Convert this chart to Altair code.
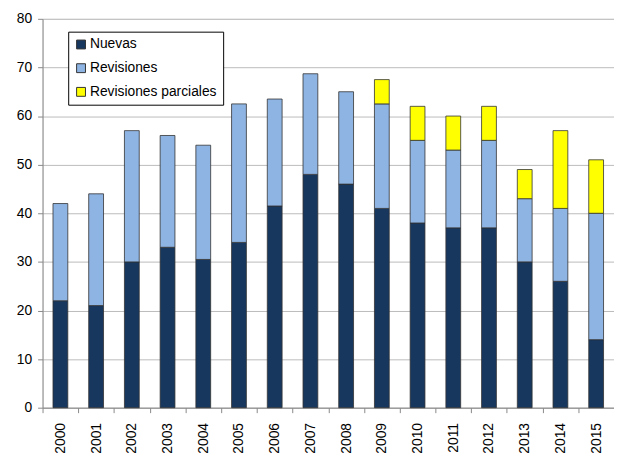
import altair as alt
import pandas as pd

years = [str(y) for y in range(2000, 2016)]
nuevas = [22, 21, 30, 33, 30.5, 34, 41.5, 48, 46, 41, 38, 37, 37, 30, 26, 14]
revisiones = [20, 23, 27, 23, 23.5, 28.5, 22, 20.7, 19, 21.5, 17, 16, 18, 13, 15, 26]
parciales = [0, 0, 0, 0, 0, 0, 0, 0, 0, 5, 7, 7, 7, 6, 16, 11]

series = ["Nuevas", "Revisiones", "Revisiones parciales"]
colors = ["#17375E", "#8EB4E3", "#FFFF00"]

rows = []
for i, y in enumerate(years):
    for k, (name, vals) in enumerate(zip(series, [nuevas, revisiones, parciales])):
        if vals[i] > 0:
            rows.append({"Año": y, "Serie": name, "Valor": vals[i], "orden": k})
df = pd.DataFrame(rows)

W, H = 579, 394
step = W / len(years)

chart = alt.Chart(df).mark_bar(
    stroke="#333333", strokeWidth=0.8, size=15
).encode(
    x=alt.X("Año:N", sort=years, title=None,
            scale=alt.Scale(paddingInner=0.58, paddingOuter=0.29),
            axis=alt.Axis(labelAngle=-90, labelAlign="right", labelBaseline="middle",
                          tickOffset=-step / 2, labelOffset=step / 2,
                          labelFontSize=14, labelColor="#000000", labelFont="Liberation Sans",
                          tickColor="#888888", tickSize=5, labelPadding=10,
                          domainColor="#888888", grid=False)),
    y=alt.Y("Valor:Q", stack="zero", title=None,
            scale=alt.Scale(domain=[0, 80], nice=False),
            axis=alt.Axis(values=list(range(0, 81, 10)), labelFontSize=14, labelColor="#000000",
                          labelFont="Liberation Sans", tickColor="#888888", tickSize=5,
                          labelPadding=6, domainColor="#888888",
                          gridColor="#BBBBBB", gridWidth=1)),
    color=alt.Color("Serie:N", sort=series,
                    scale=alt.Scale(domain=series, range=colors),
                    legend=alt.Legend(title=None, orient="none", legendX=26, legendY=13,
                                      fillColor="#FFFFFF", strokeColor="#000000",
                                      padding=6, rowPadding=10, symbolType="square",
                                      symbolSize=81, symbolStrokeColor="#333333",
                                      symbolStrokeWidth=1, labelFontSize=14,
                                      labelFont="Liberation Sans", labelColor="#000000",
                                      labelOffset=2, labelLimit=200)),
    order=alt.Order("orden:Q", sort="ascending"),
).properties(
    width=W, height=H, autosize=alt.AutoSizeParams(type="none"),
    padding={"left": 35, "top": 8, "right": 0, "bottom": 49},
).configure_view(stroke=None).configure(background="#FFFFFF")

chart.save("out.html", embed_options={"renderer": "svg", "actions": False})
